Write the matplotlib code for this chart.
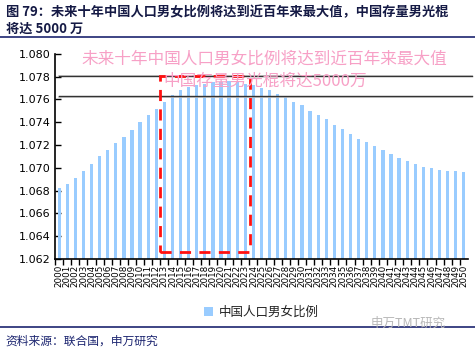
import matplotlib
matplotlib.use('Agg')
import matplotlib.pyplot as plt
from matplotlib.patches import Rectangle
import matplotlib.transforms as mtransforms

plt.rcParams['font.family'] = ['Noto Sans CJK SC', 'DejaVu Sans']

years = [str(y) for y in range(2000, 2051)]
ratio = [1.0682, 1.0686, 1.0691, 1.0697, 1.0703, 1.0710, 1.0716, 1.0722, 1.0727, 1.0733,
         1.0740, 1.0746, 1.0752, 1.0758, 1.0764, 1.0768, 1.0771, 1.0773, 1.0774, 1.0775,
         1.0775, 1.0776, 1.0775, 1.0774, 1.0773, 1.0770, 1.0768, 1.0765, 1.0762, 1.0758,
         1.0755, 1.0750, 1.0746, 1.0743, 1.0738, 1.0734, 1.0730, 1.0725, 1.0723, 1.0719,
         1.0716, 1.0712, 1.0709, 1.0706, 1.0703, 1.0701, 1.0700, 1.0698, 1.0697, 1.0697,
         1.0696]
yticks = [1.062, 1.064, 1.066, 1.068, 1.070, 1.072, 1.074, 1.076, 1.078, 1.080]
ref_lines = [1.0781, 1.0763]
box_years = (12.45, 23.6)
box_vals = (1.0626, 1.0781)

title = '图 79：未来十年中国人口男女比例将达到近百年来最大值，中国存量男光棍\n将达 5000 万'
note1 = '未来十年中国人口男女比例将达到近百年来最大值'
note2 = '中国存量男光棍将达5000万'
series_name = '中国人口男女比例'
source = '资料来源：联合国，申万研究'

navy = '#1c2570'
bar_col = '#99ccff'
pink = '#f7a0c6'

fig = plt.figure(figsize=(4.75, 3.5), dpi=100)
ax = fig.add_axes([0.116, 0.26, 0.869, 0.586])

x = list(range(len(years)))
ax.bar(x, ratio, width=0.4, color=bar_col, label=series_name, zorder=2)

ax.set_xlim(-0.5, len(years) - 0.5)
ax.set_ylim(1.062, 1.080)
ax.set_yticks(yticks)
ax.set_yticklabels(['%.3f' % v for v in yticks], fontsize=8, family='DejaVu Sans')
ax.set_xticks(x)
ax.set_xticklabels(years, rotation=90, fontsize=6.3, family='DejaVu Sans')
ax.set_xticks([i + 0.5 for i in x[:-1]] + [-0.5], minor=True)
ax.tick_params(axis='x', which='major', length=0, pad=4)
ax.tick_params(axis='x', which='minor', length=4, direction='out', width=1)
ax.tick_params(axis='y', direction='in', length=4, width=1)
for s in ['top', 'right']:
    ax.spines[s].set_visible(False)
for s in ['left', 'bottom']:
    ax.spines[s].set_linewidth(1.2)

# reference lines
tr = mtransforms.blended_transform_factory(ax.transAxes, ax.transData)
for v in ref_lines:
    ax.plot([0.01, 1.01], [v - 0.00006, v - 0.00006], color='#c8c8c8', lw=1.2,
            transform=tr, clip_on=False, zorder=3)
    ax.plot([0.01, 1.01], [v, v], color='#333333', lw=1.0, transform=tr,
            clip_on=False, zorder=3)

ax.add_patch(Rectangle((box_years[0], box_vals[0]), box_years[1] - box_years[0],
                       box_vals[1] - box_vals[0], fill=False, edgecolor='#ff1010',
                       lw=2, linestyle=(0, (4, 3)), zorder=4))

ax.text(25.4, 1.07955, note1, color=pink, fontsize=12, ha='center', va='center', zorder=5)
ax.text(25.4, 1.07757, note2, color=pink, fontsize=12, ha='center', va='center', zorder=5)

fig.text(0.012, 0.985, title, fontsize=9.5, fontweight='bold', color='#151a45',
         va='top', ha='left', linespacing=1.25)
fig.add_artist(plt.Line2D([0, 1], [0.893, 0.893], color=navy, lw=1.2))

leg = ax.legend(loc='center', bbox_to_anchor=(0.5, -0.26), frameon=False,
                fontsize=9, handlelength=0.7, handleheight=0.7, handletextpad=0.5)
for t in leg.get_texts():
    t.set_color('#222222')

fig.add_artist(plt.Line2D([0, 1], [0.066, 0.066], color=navy, lw=1.2))
fig.text(0.86, 0.077, '申万TMT研究', fontsize=9, color='#b8b8b8', ha='center', va='center')
fig.text(0.012, 0.025, source, fontsize=8.5, color=navy, ha='left', va='center')

fig.savefig('out.png', dpi=100)
